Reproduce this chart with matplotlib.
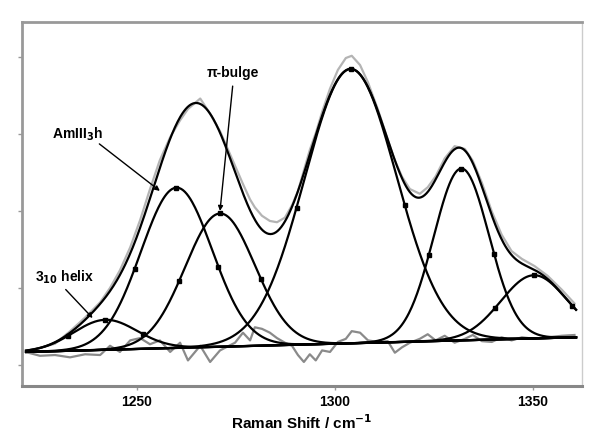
import numpy as np
import matplotlib.pyplot as plt

plt.rcParams['font.family'] = ['Liberation Sans', 'DejaVu Sans']

# fitted band components (Gaussian): centre, height above baseline, sigma
centers = [1242.0, 1260.0, 1271.0, 1304.0, 1332.0, 1350.3]
heights = [0.39, 2.08, 1.73, 3.56, 2.23, 0.82]
sigmas = [8.0, 9.0, 8.8, 11.6, 7.0, 8.3]

# linear baseline end points
base_x = [1222.0, 1361.0]
base_y = [0.17, 0.36]

# residual trace (drawn at baseline level)
res_x = [1221.8, 1225.5, 1229.3, 1233.1, 1236.9, 1240.7, 1243.2, 1245.7, 1248.3, 1250.8,
         1253.3, 1255.8, 1258.4, 1260.9, 1262.9, 1266.0, 1268.5, 1271.0, 1274.8, 1276.8,
         1278.6, 1279.8, 1281.6, 1283.6, 1285.4, 1287.4, 1289.2, 1290.7, 1292.2, 1293.7,
         1295.2, 1296.8, 1298.8, 1300.8, 1302.8, 1304.3, 1306.4, 1308.4, 1310.9, 1313.4,
         1315.2, 1317.0, 1319.0, 1321.5, 1323.5, 1325.5, 1327.8, 1330.3, 1332.9, 1334.9,
         1337.2, 1339.7, 1342.2, 1344.7, 1347.3, 1350.5, 1353.8, 1357.4, 1360.6]
res_y = [0.17, 0.12, 0.13, 0.10, 0.14, 0.13, 0.25, 0.17, 0.32, 0.35,
         0.27, 0.32, 0.17, 0.29, 0.06, 0.25, 0.04, 0.19, 0.29, 0.42,
         0.32, 0.49, 0.47, 0.42, 0.35, 0.29, 0.25, 0.13, 0.04, 0.14,
         0.06, 0.19, 0.17, 0.30, 0.34, 0.44, 0.42, 0.32, 0.30, 0.31,
         0.16, 0.23, 0.29, 0.34, 0.40, 0.32, 0.38, 0.29, 0.34, 0.39,
         0.31, 0.30, 0.36, 0.32, 0.36, 0.34, 0.36, 0.38, 0.39]

# measured spectrum: deviation from the fitted envelope at the same points
spec_dev = [0.00, 0.00, -0.02, 0.02, 0.03, 0.02, 0.04, 0.06, 0.08, 0.10,
            0.12, 0.10, 0.02, -0.04, -0.03, 0.07, 0.00, 0.02, 0.08, 0.12,
            0.14, 0.16, 0.18, 0.17, 0.12, 0.05, 0.02, 0.00, 0.04, 0.06,
            0.03, 0.05, 0.08, 0.12, 0.16, 0.17, 0.12, 0.06, 0.02, 0.00,
            0.00, 0.02, 0.04, 0.05, 0.06, 0.04, 0.05, 0.04, 0.02, 0.03,
            0.05, 0.05, 0.06, 0.05, 0.06, 0.05, 0.04, 0.05, 0.06]


def baseline(x):
    slope = (base_y[1] - base_y[0]) / (base_x[1] - base_x[0])
    return base_y[0] + (np.asarray(x) - base_x[0]) * slope


def band(x, c, h, s):
    return h * np.exp(-(np.asarray(x) - c) ** 2 / (2 * s ** 2))


def envelope(x):
    tot = baseline(x)
    for c, h, s in zip(centers, heights, sigmas):
        tot = tot + band(x, c, h, s)
    return tot


x = np.linspace(base_x[0], base_x[1], 600)

fig = plt.figure(figsize=(6, 4.43), dpi=100)
ax = fig.add_axes([0.037, 0.129, 0.933, 0.821])

# measured spectrum and residual in grey
spec = envelope(np.array(res_x)) + np.array(spec_dev)
ax.plot(res_x, spec, color='#b4b4b4', lw=1.6, zorder=1)
ax.plot(res_x, res_y, color='#8a8a8a', lw=1.6, zorder=1)

# baseline and components
ax.plot(base_x, base_y, color='black', lw=1.6, zorder=3)
for c, h, s in zip(centers, heights, sigmas):
    ax.plot(x, baseline(x) + band(x, c, h, s), color='black', lw=1.6, zorder=3)
    hw = s * np.sqrt(2 * np.log(2))
    mx = np.array([c - hw, c, c + hw])
    mx = mx[(mx >= base_x[0]) & (mx <= base_x[1])]
    ax.plot(mx, baseline(mx) + band(mx, c, h, s), ls='none', marker='s',
            ms=3.5, color='black', zorder=4)

ax.plot(x, envelope(x), color='black', lw=1.6, zorder=3)

# annotations
arrow = dict(arrowstyle='-|>', color='black', lw=1.0, mutation_scale=7, shrinkA=0, shrinkB=0)
ax.annotate('', xy=(1271.0, 2.0), xytext=(1274.2, 3.62), arrowprops=arrow)
ax.text(1274.3, 3.79, 'π-bulge', ha='center', va='center', fontsize=10, fontweight='bold')
ax.annotate('', xy=(1255.8, 2.26), xytext=(1240.5, 2.87), arrowprops=arrow)
ax.text(1234.9, 3.0, 'AmIII$_\\mathbf{3}$h', ha='center', va='center', fontsize=10, fontweight='bold')
ax.annotate('', xy=(1238.8, 0.61), xytext=(1232.0, 0.98), arrowprops=arrow)
ax.text(1231.8, 1.14, '3$_{\\mathbf{10}}$ helix', ha='center', va='center', fontsize=10, fontweight='bold')

ax.set_xlim(1221.0, 1362.5)
ax.set_ylim(-0.27, 4.45)
ax.set_xticks([1250, 1300, 1350])
ax.set_yticks([0, 1, 2, 3, 4])
ax.set_yticklabels([])
ax.tick_params(axis='both', direction='out', length=3, color='#999999', width=1)
for lab in ax.get_xticklabels():
    lab.set_fontweight('bold')
    lab.set_fontsize(10)
ax.set_xlabel('Raman Shift / cm$^{\\mathbf{-1}}$', fontsize=11, fontweight='bold', labelpad=3)

ax.spines['top'].set_color('#999999')
ax.spines['top'].set_linewidth(2)
ax.spines['bottom'].set_color('#888888')
ax.spines['bottom'].set_linewidth(2.2)
ax.spines['left'].set_color('#999999')
ax.spines['left'].set_linewidth(2)
ax.spines['right'].set_color('#cccccc')
ax.spines['right'].set_linewidth(1)

plt.savefig('out.png', dpi=100)
